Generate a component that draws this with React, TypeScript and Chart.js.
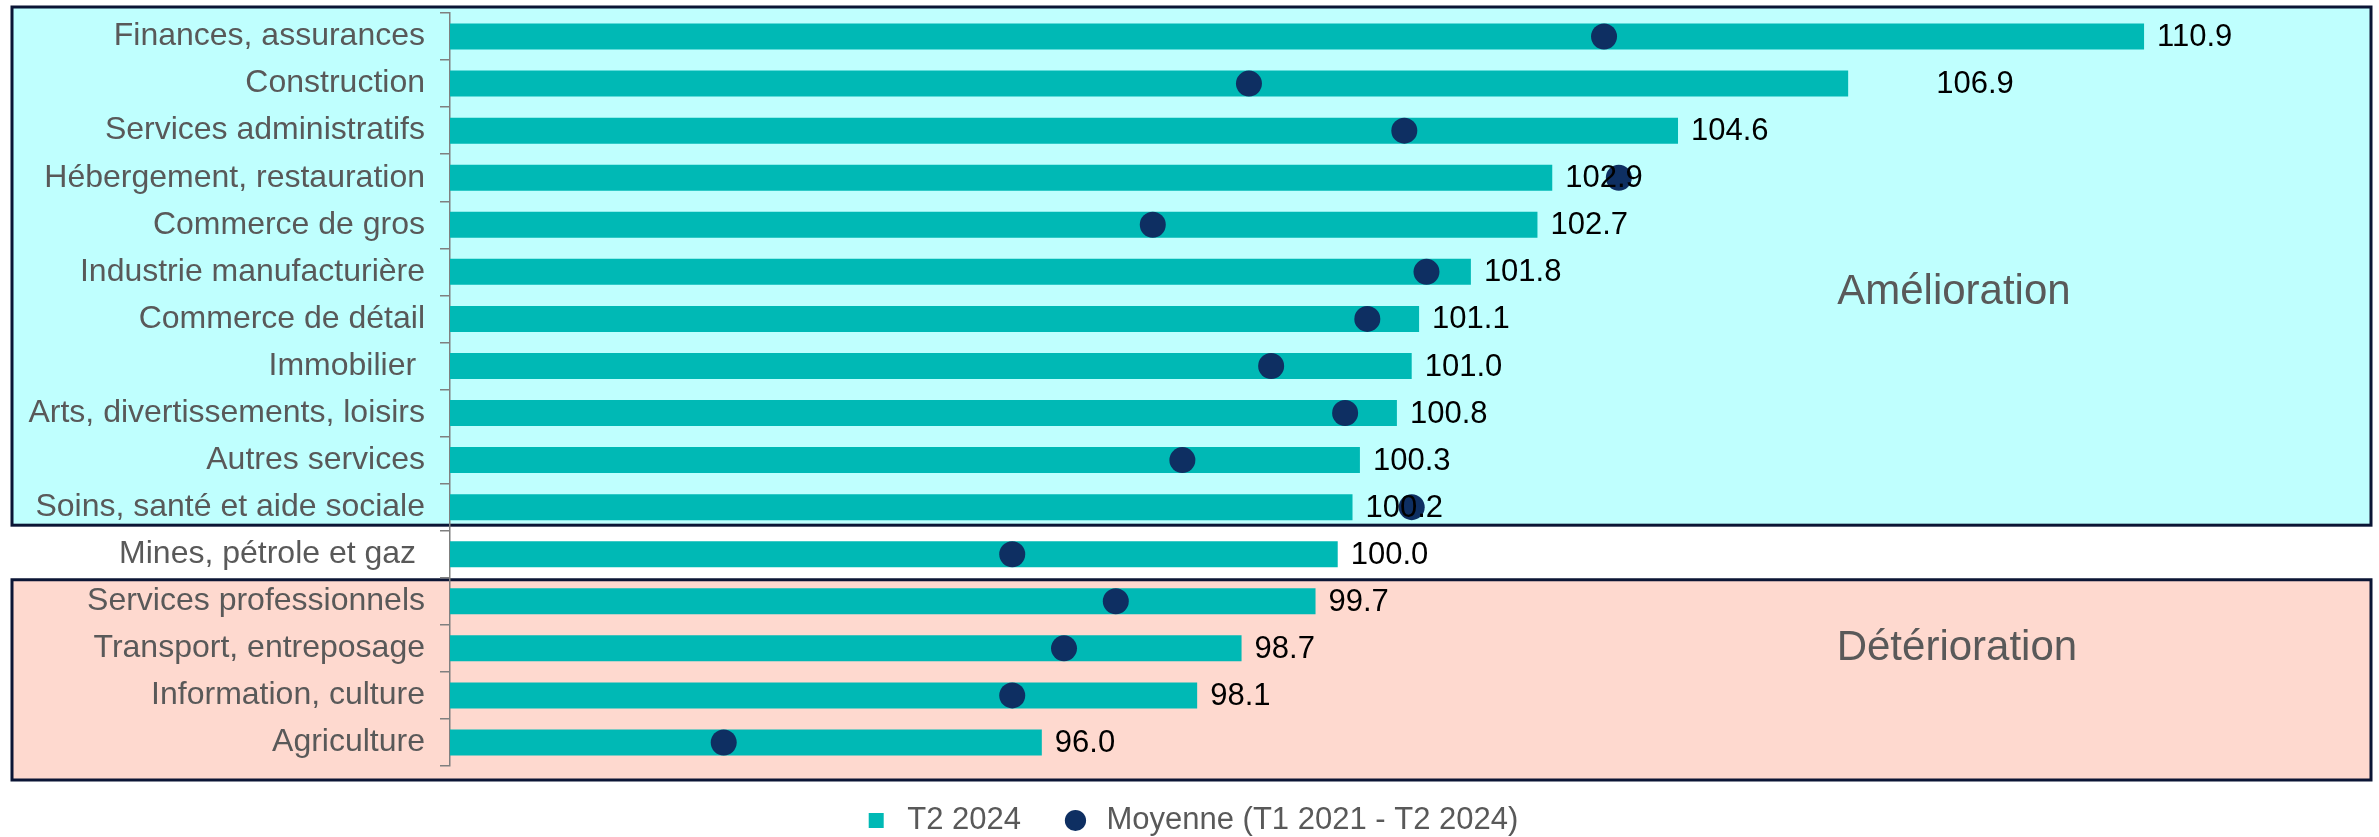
import React, { useEffect, useRef } from "react";
import { Chart, registerables } from "chart.js";

Chart.register(...registerables);

const categories = [
  "Finances, assurances",
  "Construction",
  "Services administratifs",
  "Hébergement, restauration",
  "Commerce de gros",
  "Industrie manufacturière",
  "Commerce de détail",
  "Immobilier ",
  "Arts, divertissements, loisirs",
  "Autres services",
  "Soins, santé et aide sociale",
  "Mines, pétrole et gaz ",
  "Services professionnels",
  "Transport, entreposage",
  "Information, culture",
  "Agriculture",
];

const t2_2024 = [110.9, 106.9, 104.6, 102.9, 102.7, 101.8, 101.1, 101.0, 100.8, 100.3, 100.2, 100.0, 99.7, 98.7, 98.1, 96.0];

const moyenne = [103.6, 98.8, 100.9, 103.8, 97.5, 101.2, 100.4, 99.1, 100.1, 97.9, 101.0, 95.6, 97.0, 96.3, 95.6, 91.7];

const seriesNames = ["T2 2024", "Moyenne (T1 2021 - T2 2024)"];
const zoneLabels = ["Amélioration", "Détérioration"];

const FONT = "'Liberation Sans', Arial, sans-serif";
const TEAL = "#00B9B5";
const NAVY = "#0E2F62";
const GRAY = "#595959";

const zonesPlugin = {
  id: "zones",
  beforeDraw(chart: any) {
    const { ctx, chartArea } = chart;
    const y = chart.scales.y;
    const n = categories.length;
    const band = (y.bottom - y.top) / n;
    const left = 12;
    const right = chartArea.right + 5;
    const boxes = [
      { top: y.top - 6, bottom: y.top + 11 * band - 5.5, fill: "#BFFFFE" },
      { top: y.top + 12 * band + 2, bottom: y.bottom + 14, fill: "#FED9CF" },
    ];
    ctx.save();
    for (const b of boxes) {
      ctx.fillStyle = b.fill;
      ctx.fillRect(left, b.top, right - left, b.bottom - b.top);
      ctx.lineWidth = 3;
      ctx.strokeStyle = "#0B1535";
      ctx.strokeRect(left, b.top, right - left, b.bottom - b.top);
    }
    ctx.restore();
  },
  afterDatasetsDraw(chart: any) {
    const { ctx } = chart;
    const x = chart.scales.x;
    const y = chart.scales.y;
    ctx.save();
    ctx.font = `42px ${FONT}`;
    ctx.fillStyle = GRAY;
    ctx.textAlign = "center";
    ctx.textBaseline = "middle";
    ctx.fillText(zoneLabels[0], x.getPixelForValue(108.33), y.getPixelForValue(5.43));
    ctx.fillText(zoneLabels[1], x.getPixelForValue(108.37), y.getPixelForValue(13.0));
    ctx.restore();
  },
};

const valueLabelsPlugin = {
  id: "valueLabels",
  afterDatasetsDraw(chart: any) {
    const { ctx } = chart;
    const meta = chart.getDatasetMeta(0);
    ctx.save();
    ctx.font = `31px ${FONT}`;
    ctx.fillStyle = "#000000";
    ctx.textAlign = "left";
    ctx.textBaseline = "middle";
    meta.data.forEach((bar: any, i: number) => {
      const extra = categories[i] === "Construction" ? 75 : 0;
      ctx.fillText(t2_2024[i].toFixed(1), bar.x + 13 + extra, bar.y + 1);
    });
    ctx.restore();
  },
};

export default function App() {
  const ref = useRef<HTMLCanvasElement | null>(null);

  useEffect(() => {
    if (!ref.current) return;
    const chart = new Chart(ref.current, {
      type: "bar",
      data: {
        labels: categories,
        datasets: [
          {
            type: "bar",
            label: seriesNames[0],
            data: t2_2024,
            backgroundColor: TEAL,
            borderWidth: 0,
            barPercentage: 0.552,
            categoryPercentage: 1,
            pointStyle: "rect",
            indexAxis: "y",
            xAxisID: "x",
            yAxisID: "y",
            order: 1,
          } as any,
          {
            type: "line",
            label: seriesNames[1],
            data: moyenne,
            showLine: false,
            pointRadius: 13,
            pointHoverRadius: 13,
            pointBackgroundColor: NAVY,
            backgroundColor: NAVY,
            borderColor: NAVY,
            pointBorderWidth: 0,
            borderWidth: 0,
            pointStyle: "circle",
            indexAxis: "y",
            xAxisID: "x",
            yAxisID: "y",
            order: 0,
          } as any,
        ],
      },
      options: {
        indexAxis: "y",
        responsive: false,
        animation: false,
        layout: { padding: { top: 12, left: 0, right: 0, bottom: 0 } },
        scales: {
          x: {
            type: "linear",
            min: 88,
            max: 113.9,
            display: false,
          },
          y: {
            type: "category",
            offset: true,
            afterFit: (scale: any) => {
              scale.width = 450;
              scale.paddingTop = 0;
              scale.paddingBottom = 0;
            },
            grid: {
              display: true,
              offset: true,
              drawOnChartArea: false,
              drawTicks: true,
              tickLength: 10,
              color: "#7F7F7F",
              lineWidth: 1.5,
            },
            border: { display: true, color: "#7F7F7F", width: 1.5 },
            ticks: {
              color: GRAY,
              font: { family: FONT, size: 32 },
              padding: 15,
              autoSkip: false,
            },
          },
        },
        plugins: {
          legend: {
            display: true,
            position: "bottom",
            labels: {
              usePointStyle: true,
              boxHeight: 15,
              padding: 39,
              color: GRAY,
              font: { family: FONT, size: 31 },
              sort: (a: any, b: any) => a.datasetIndex - b.datasetIndex,
            },
          },
          tooltip: { enabled: false },
        },
      },
      plugins: [zonesPlugin, valueLabelsPlugin],
    } as any);
    return () => chart.destroy();
  }, []);

  return (
    <div
      style={{
        position: "fixed",
        left: 0,
        top: 0,
        width: 2379,
        height: 837,
        overflow: "hidden",
        background: "#ffffff",
      }}
    >
      <canvas ref={ref} width={2379} height={846} style={{ width: 2379, height: 846, display: "block" }} />
    </div>
  );
}
